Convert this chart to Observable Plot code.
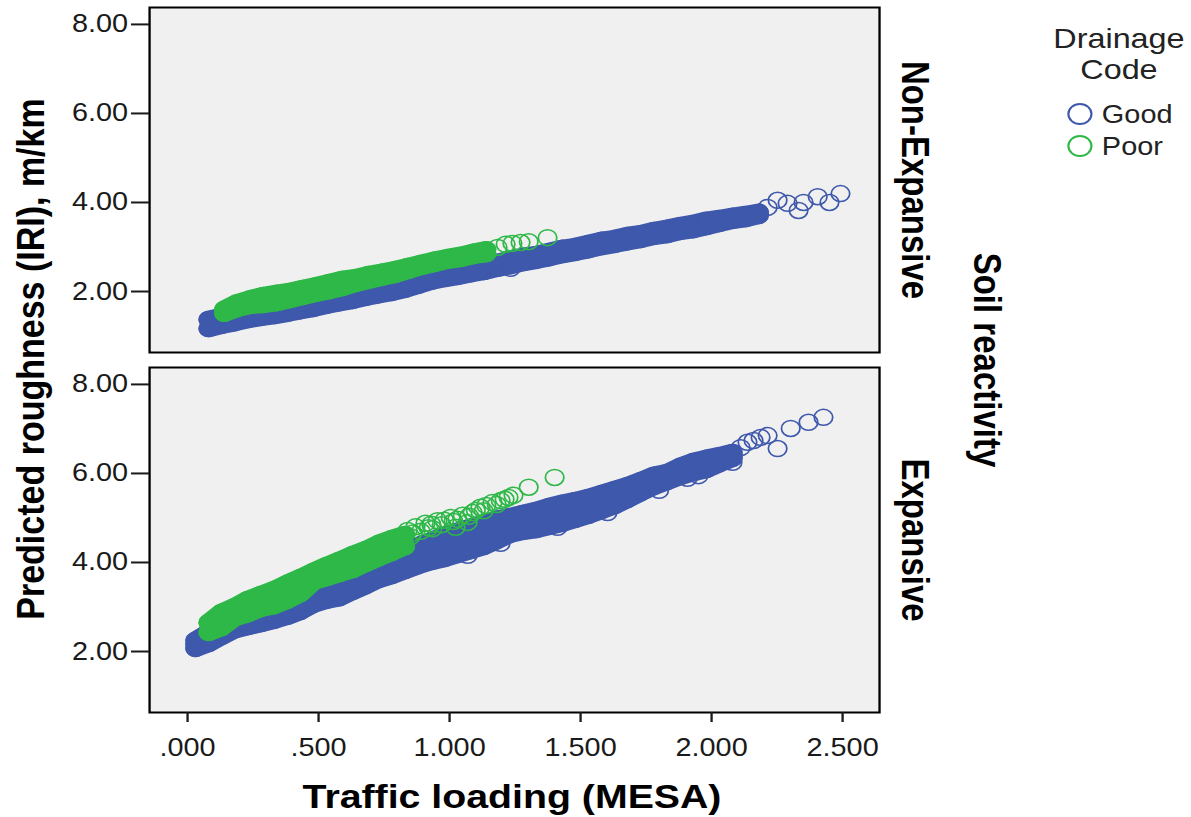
<!DOCTYPE html>
<html>
<head>
<meta charset="utf-8">
<script src="https://cdn.jsdelivr.net/npm/d3@7"></script>
<script src="https://cdn.jsdelivr.net/npm/@observablehq/plot@0.6"></script>
<style>
  html, body { margin: 0; padding: 0; background: #fff; overflow: hidden; }
  #wrap { position: relative; width: 1031px; height: 817px; transform: scaleX(1.155); transform-origin: 0 0;
          font-family: "Liberation Sans", Arial, sans-serif; color: #111; }
  #chart { position: absolute; left: 0; top: 0; }
  .t { position: absolute; white-space: nowrap; line-height: 1; }
  .bold { font-weight: bold; color: #000; }
</style>
</head>
<body>
<div id="wrap">
  <div id="chart"></div>
</div>
<script>
// ---------- categories ----------
const soils = ["Non-Expansive", "Expansive"];
const drainage = ["Good", "Poor"];
const colors = ["#3E58AC", "#2EB848"];
const xTicks = [0, 0.5, 1, 1.5, 2, 2.5];
const yTicks = [2, 4, 6, 8];

// ---------- Non-Expansive, Good: dense band (lower / upper edge of point cloud) ----------
const neGoodX  = [0.08,0.13,0.18,0.23,0.28,0.33,0.38,0.43,0.48,0.53,0.58,0.63,0.68,0.73,0.78,0.83,0.88,0.93,0.98,1.03,1.08,1.13,1.18,1.23,1.28,1.33,1.38,1.43,1.48,1.53,1.58,1.63,1.68,1.73,1.78,1.83,1.88,1.93,1.98,2.03,2.08,2.13,2.18];
const neGoodLo = [1.17,1.24,1.30,1.37,1.42,1.46,1.51,1.57,1.62,1.69,1.75,1.80,1.87,1.93,1.98,2.05,2.14,2.23,2.29,2.34,2.40,2.45,2.52,2.58,2.65,2.70,2.76,2.83,2.88,2.94,3.01,3.06,3.12,3.17,3.24,3.28,3.35,3.39,3.46,3.53,3.60,3.64,3.71];
const neGoodHi = [1.37,1.44,1.48,1.53,1.57,1.62,1.66,1.73,1.78,1.84,1.91,1.96,2.02,2.09,2.14,2.20,2.29,2.38,2.43,2.47,2.54,2.58,2.65,2.72,2.79,2.83,2.90,2.97,3.01,3.08,3.15,3.19,3.26,3.30,3.37,3.42,3.48,3.53,3.60,3.64,3.69,3.73,3.78];
const neGoodSparse = [[2.214,3.89],[2.252,4.05],[2.29,3.98],[2.332,3.82],[2.351,4.00],[2.405,4.13],[2.45,4.00],[2.492,4.20],[1.233,2.52]];

// ---------- Non-Expansive, Poor ----------
const nePoorX  = [0.14,0.19,0.24,0.29,0.34,0.39,0.44,0.49,0.54,0.59,0.64,0.69,0.74,0.79,0.84,0.89,0.94,0.99,1.04,1.09,1.14];
const nePoorLo = [1.51,1.62,1.69,1.71,1.75,1.82,1.89,1.96,2.02,2.09,2.18,2.25,2.32,2.38,2.47,2.56,2.63,2.70,2.74,2.81,2.85];
const nePoorHi = [1.60,1.75,1.84,1.91,1.96,2.00,2.07,2.13,2.20,2.27,2.31,2.38,2.43,2.49,2.56,2.63,2.70,2.76,2.81,2.88,2.94];
const nePoorSparse = [[1.183,2.99],[1.214,3.06],[1.24,3.08],[1.271,3.10],[1.302,3.12],[1.374,3.21]];

// ---------- Expansive, Good ----------
const exGoodX   = [0.03,0.08,0.13,0.18,0.23,0.28,0.33,0.38,0.43,0.48,0.53,0.58,0.63,0.68,0.73,0.78,0.83,0.88,0.93,0.98,1.03,1.08,1.13,1.18,1.23,1.28,1.33,1.38,1.43,1.48,1.53,1.58,1.63,1.68,1.73,1.78,1.83,1.88,1.93,1.98,2.03,2.08];
const exGoodLo  = [2.07,2.18,2.34,2.49,2.56,2.63,2.70,2.79,2.90,3.06,3.15,3.21,3.35,3.48,3.62,3.71,3.82,3.93,4.02,4.09,4.18,4.27,4.36,4.49,4.63,4.70,4.74,4.81,4.88,4.97,5.06,5.17,5.28,5.42,5.57,5.71,5.82,5.93,6.02,6.09,6.22,6.34];
const exGoodMid = [2.16,2.30,2.45,2.62,2.70,2.80,2.87,2.97,3.09,3.24,3.35,3.44,3.56,3.69,3.82,3.92,4.04,4.15,4.25,4.35,4.44,4.53,4.62,4.73,4.83,4.90,4.95,5.03,5.10,5.18,5.26,5.36,5.46,5.57,5.70,5.83,5.92,6.04,6.14,6.21,6.31,6.40];
const exGoodHi  = [2.25,2.43,2.56,2.76,2.85,2.97,3.03,3.15,3.28,3.42,3.55,3.66,3.78,3.89,4.02,4.13,4.27,4.38,4.49,4.61,4.70,4.79,4.88,4.97,5.03,5.10,5.17,5.26,5.33,5.39,5.46,5.55,5.64,5.73,5.84,5.96,6.02,6.16,6.27,6.34,6.40,6.47];
const exGoodSparse = [[2.08,6.25],[2.111,6.58],[2.137,6.70],[2.16,6.74],[2.187,6.81],[2.214,6.85],[2.252,6.56],[2.302,7.01],[2.37,7.15],[2.427,7.26],[1.603,5.12],[1.412,4.79],[1.195,4.43],[1.069,4.16],[1.908,5.89],[1.80,5.62],[1.95,5.95]];

// ---------- Expansive, Poor ----------
const exPoorX  = [0.08,0.13,0.18,0.23,0.28,0.33,0.38,0.43,0.48,0.53,0.58,0.63,0.68,0.73,0.78,0.83];
const exPoorLo = [2.43,2.54,2.76,2.85,2.97,3.03,3.15,3.30,3.57,3.66,3.75,3.84,3.98,4.11,4.23,4.36];
const exPoorHi = [2.65,2.88,3.01,3.17,3.28,3.39,3.53,3.66,3.80,3.93,4.05,4.18,4.29,4.43,4.54,4.63];
const exPoorSparse = [[0.84,4.72],[0.851,4.58],[0.86,4.66],[0.87,4.80],[0.89,4.70],[0.908,4.88],[0.92,4.78],[0.93,4.86],[0.935,4.76],[0.954,4.94],[0.97,4.85],[0.98,4.95],[1.004,5.01],[1.015,4.92],[1.023,4.79],[1.03,4.97],[1.05,5.06],[1.069,4.90],[1.075,5.04],[1.088,5.12],[1.10,5.17],[1.118,5.24],[1.13,5.16],[1.14,5.28],[1.164,5.35],[1.18,5.30],[1.195,5.39],[1.21,5.42],[1.225,5.46],[1.244,5.51],[1.302,5.69],[1.401,5.91]];

// ---------- tables ----------
const edgeNames = ["lo", "mid", "hi"];
function band(soil, drain, xs, ...ys) {
  const rows = [];
  ys.forEach((arr, k) => {
    const edge = ys.length === 2 ? ["lo", "hi"][k] : edgeNames[k];
    xs.forEach((x, i) => rows.push({soil, drain, edge, x, y: arr[i]}));
  });
  return rows;
}
function sparse(soil, drain, pts) {
  return pts.map(([x, y]) => ({soil, drain, x, y}));
}
const denseGood = [
  ...band(soils[0], drainage[0], neGoodX, neGoodLo, neGoodHi),
  ...band(soils[1], drainage[0], exGoodX, exGoodLo, exGoodMid, exGoodHi)
];
const sparseGood = [
  ...sparse(soils[0], drainage[0], neGoodSparse),
  ...sparse(soils[1], drainage[0], exGoodSparse)
];
const densePoor = [
  ...band(soils[0], drainage[1], nePoorX, nePoorLo, nePoorHi),
  ...band(soils[1], drainage[1], exPoorX, exPoorLo, exPoorHi)
];
const sparsePoor = [
  ...sparse(soils[0], drainage[1], nePoorSparse),
  ...sparse(soils[1], drainage[1], exPoorSparse)
];

const R = 8, SW = 1.5;
const xFmt = d => d3.format(".3f")(d).replace(/^0\./, ".");

// the overlapping point cloud: each row of points swept by a circle of the marker's size
const cloud = (data) => Plot.line(data, {x: "x", y: "y", fy: "soil", z: "edge", stroke: "drain",
  strokeWidth: 2 * R + SW, strokeLinecap: "round", strokeLinejoin: "round", curve: "linear"});

const chart = Plot.plot({
  width: 1031,
  height: 817,
  marginLeft: 129,
  marginRight: 270,
  marginTop: 7,
  marginBottom: 105,
  style: {fontFamily: "'Liberation Sans', Arial, sans-serif", fontSize: "25px", color: "#1a1a1a", background: "transparent", overflow: "visible"},
  x: {domain: [-0.145, 2.641]},
  y: {domain: [0.63, 8.38]},
  fy: {domain: soils, paddingInner: 15 / 360, paddingOuter: 0, axis: null, label: null},
  color: {domain: drainage, range: colors},
  marks: [
    Plot.frame({fill: "#f0f0f0", stroke: null}),
    cloud(denseGood),
    Plot.dot(denseGood, {x: "x", y: "y", fy: "soil", fill: "drain", stroke: "drain", r: R, strokeWidth: SW}),
    Plot.dot(sparseGood, {x: "x", y: "y", fy: "soil", stroke: "drain", fill: "none", r: R, strokeWidth: SW}),
    cloud(densePoor),
    Plot.dot(densePoor, {x: "x", y: "y", fy: "soil", fill: "drain", stroke: "drain", r: R, strokeWidth: SW}),
    Plot.dot(sparsePoor, {x: "x", y: "y", fy: "soil", stroke: "drain", fill: "none", r: R, strokeWidth: SW}),
    Plot.frame({stroke: "#000", strokeWidth: 2}),
    Plot.axisX({ticks: xTicks, tickFormat: xFmt, tickSize: 10, tickPadding: 16, strokeWidth: 2, label: null}),
    Plot.axisY({ticks: yTicks, tickFormat: d3.format(".2f"), tickSize: 15.6, tickPadding: 3, strokeWidth: 2, label: null}),
    Plot.text(soils, {fy: d => d, text: d => d, frameAnchor: "right", dx: 30, rotate: 90,
      textAnchor: "middle", lineAnchor: "middle", fontSize: 33, fontWeight: "bold", fill: "#000"})
  ]
});
document.getElementById("chart").appendChild(chart);

// ---------- titles and legend (real text) ----------
const wrap = document.getElementById("wrap");
function addText(txt, cls, css) {
  const d = document.createElement("div");
  d.className = "t " + cls;
  d.innerHTML = txt;
  Object.assign(d.style, css);
  wrap.appendChild(d);
  return d;
}
addText("Predicted roughness (IRI), m/km", "bold", {left: "26px", top: "359px", fontSize: "34px",
  transform: "translate(-50%,-50%) rotate(-90deg)"});
addText("Soil reactivity", "bold", {left: "854.5px", top: "360px", fontSize: "33px",
  transform: "translate(-50%,-50%) rotate(90deg)"});
addText("Traffic loading (MESA)", "bold", {left: "443.3px", top: "796px", fontSize: "34px",
  transform: "translate(-50%,-50%)"});
addText("Drainage<br>Code", "", {left: "968.8px", top: "23px", fontSize: "28px", lineHeight: "31px",
  textAlign: "center", transform: "translateX(-50%)", color: "#222"});
const legendY = [114, 146];
drainage.forEach((name, i) => {
  const d = document.createElement("div");
  d.className = "t";
  Object.assign(d.style, {left: "923px", top: (legendY[i] - 12) + "px", height: "24px", display: "flex",
    alignItems: "center", fontSize: "25px", color: "#222"});
  d.innerHTML = `<svg width="26" height="24" style="margin-right:5px"><circle cx="12" cy="12" r="10" fill="none" stroke="${colors[i]}" stroke-width="1.8"/></svg><span>${name}</span>`;
  wrap.appendChild(d);
});
</script>
</body>
</html>
